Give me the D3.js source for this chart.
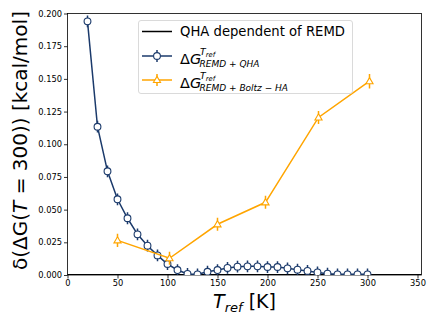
<!DOCTYPE html>
<html><head><meta charset="utf-8">
<script src="https://cdn.jsdelivr.net/npm/d3@7"></script>
<style>body{margin:0;background:#fff}svg{display:block;font-family:"DejaVu Sans",sans-serif}</style>
</head><body><svg id="c" width="436" height="327"></svg>
<script>
const qhaT = [20,30,40,50,60,70,80,90,100,110,120,130,140,150,160,170,180,190,200,210,220,230,240,250,260,270,280,290,300];
const qhaVal = [0.194,0.1134,0.0793,0.0579,0.0434,0.0311,0.0224,0.0150,0.0084,0.0038,0.0008,0.0005,0.0025,0.0038,0.0054,0.0064,0.0066,0.0066,0.0061,0.0061,0.0051,0.0041,0.0031,0.0020,0.0010,0.0005,0.0005,0.0005,0.0005];
const qhaErr = [0.0045,0.0045,0.0045,0.0045,0.0045,0.0045,0.0045,0.0045,0.0045,0.0045,0.0045,0.0045,0.0045,0.0045,0.0045,0.0045,0.0045,0.0045,0.0045,0.0045,0.0045,0.0045,0.0045,0.0045,0.0045,0.0045,0.0045,0.0045,0.0045];
const boltzT = [50,102,150,198,251,302];
const boltzVal = [0.0265,0.0128,0.0388,0.0556,0.1205,0.1482];
const boltzErr = [0.005,0.005,0.005,0.005,0.005,0.0055];
const refT = [0,354];
const refVal = [0,0];
const xTicks = [0,50,100,150,200,250,300,350];
const yTicks = [0,0.025,0.05,0.075,0.1,0.125,0.15,0.175,0.2];

const svg = d3.select("#c");
const L=67.5,R=421.5,T=13.5,B=275;
const x = d3.scaleLinear().domain([0,354]).range([L,R]);
const y = d3.scaleLinear().domain([0,0.2]).range([B,T]);
const blue="#1b3a6b", orange="#ffa500";

const gx = svg.append("g").attr("transform",`translate(0,${B})`)
  .call(d3.axisBottom(x).tickValues(xTicks).tickSize(3.5).tickPadding(2).tickFormat(d3.format("d")));
const gy = svg.append("g").attr("transform",`translate(${L},0)`)
  .call(d3.axisLeft(y).tickValues(yTicks).tickSize(3.5).tickPadding(2).tickFormat(d3.format(".3f")));
[gx,gy].forEach(g=>{g.select(".domain").remove();g.selectAll("text").attr("font-size",8.3).attr("fill","#000").attr("font-family","DejaVu Sans");g.selectAll("line").attr("stroke","#000").attr("stroke-width",0.8);});

svg.append("rect").attr("x",L).attr("y",T).attr("width",R-L).attr("height",B-T).attr("fill","none").attr("stroke","#000").attr("stroke-width",0.8);

svg.append("defs").append("clipPath").attr("id","pc").append("rect").attr("x",L).attr("y",T-3).attr("width",R-L).attr("height",B-T+3);
const pg = svg.append("g").attr("clip-path","url(#pc)");

const line = d3.line().x(d=>x(d[0])).y(d=>y(d[1]));
pg.append("path").datum(refT.map((t,i)=>[t,refVal[i]])).attr("d",line).attr("stroke","#000").attr("stroke-width",2).attr("fill","none");

const tri = d3.symbol().type(d3.symbolTriangle).size(22);
function series(ts,vs,es,color,marker){
  const data = ts.map((t,i)=>[t,vs[i],es[i]]);
  pg.append("path").datum(data).attr("d",line).attr("stroke",color).attr("stroke-width",1.5).attr("fill","none");
  pg.selectAll(null).data(data).enter().append("line")
    .attr("x1",d=>x(d[0])).attr("x2",d=>x(d[0])).attr("y1",d=>y(d[1]-d[2])).attr("y2",d=>y(d[1]+d[2]))
    .attr("stroke",color).attr("stroke-width",1.5);
  if(marker==="circle"){
    pg.selectAll(null).data(data).enter().append("circle").attr("cx",d=>x(d[0])).attr("cy",d=>y(d[1])).attr("r",3.4)
      .attr("fill","#fff").attr("stroke",color).attr("stroke-width",1.1);
  } else {
    pg.selectAll(null).data(data).enter().append("path").attr("d",tri)
      .attr("transform",d=>`translate(${x(d[0])},${y(d[1])+0.5})`)
      .attr("fill","#fff").attr("stroke",color).attr("stroke-width",1.1);
  }
}
series(qhaT,qhaVal,qhaErr,blue,"circle");
series(boltzT,boltzVal,boltzErr,orange,"triangle");

// Legend
const lg = svg.append("g");
lg.append("rect").attr("x",138.5).attr("y",20.5).attr("width",214).attr("height",73).attr("rx",2.5)
  .attr("fill","#fff").attr("fill-opacity",0.8).attr("stroke","#d0d0d0").attr("stroke-width",0.8);
const ly=[31.5,56,80];
lg.append("line").attr("x1",142).attr("x2",172).attr("y1",ly[0]).attr("y2",ly[0]).attr("stroke","#000").attr("stroke-width",1.5);
[[1,blue,"circle"],[2,orange,"tri"]].forEach(([i,c,m])=>{
  lg.append("line").attr("x1",142).attr("x2",172).attr("y1",ly[i]).attr("y2",ly[i]).attr("stroke",c).attr("stroke-width",1.5);
  lg.append("line").attr("x1",157).attr("x2",157).attr("y1",ly[i]-6).attr("y2",ly[i]+6).attr("stroke",c).attr("stroke-width",1.5);
  if(m==="circle") lg.append("circle").attr("cx",157).attr("cy",ly[i]).attr("r",3.4).attr("fill","#fff").attr("stroke",c).attr("stroke-width",1.1);
  else lg.append("path").attr("d",tri).attr("transform",`translate(157,${ly[i]+0.5})`).attr("fill","#fff").attr("stroke",c).attr("stroke-width",1.1);
});
lg.append("text").attr("x",180).attr("y",ly[0]+4.8).attr("font-size",13.2).text("QHA dependent of REMD");
function dg(yy,sub){
  const t = lg.append("text").attr("x",180).attr("y",yy+7.5).attr("font-size",14.5);
  t.append("tspan").text("Δ");
  t.append("tspan").attr("font-style","italic").text("G");
  const sx = 200;
  lg.append("text").attr("x",sx).attr("y",yy-1.2).attr("font-size",9.3).attr("font-style","italic")
    .html('T<tspan font-size="6.8" dy="1.8">ref</tspan>');
  lg.append("text").attr("x",sx-0.5).attr("y",yy+11.2).attr("font-size",9).attr("font-style","italic").text(sub);
}
dg(ly[1],"REMD + QHA");
dg(ly[2],"REMD + Boltz \u2212 HA");

// axis labels
svg.append("text").attr("transform",`translate(27,140.5) rotate(-90)`).attr("text-anchor","middle").attr("font-size",20)
  .html('δ(ΔG(<tspan font-style="italic">T</tspan> = 300)) [kcal/mol]');
svg.append("text").attr("x",(L+R)/2).attr("y",308).attr("text-anchor","middle").attr("font-size",19)
  .html('<tspan font-style="italic">T</tspan><tspan font-style="italic" font-size="13" dy="4">ref</tspan><tspan dy="-4"> [K]</tspan>');
</script></body></html>
